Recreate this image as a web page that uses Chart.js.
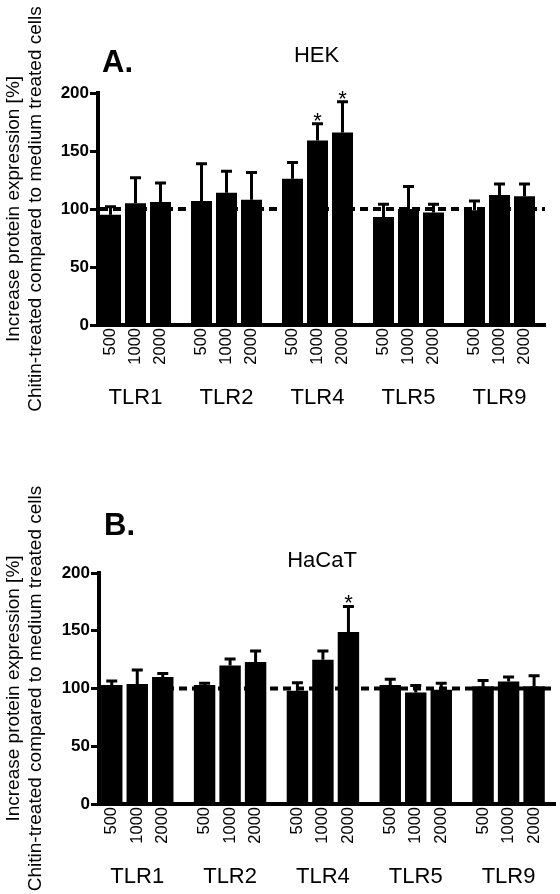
<!DOCTYPE html>
<html><head><meta charset="utf-8">
<script src="https://cdn.jsdelivr.net/npm/chart.js@4.4.1/dist/chart.umd.min.js"></script>
<style>html,body{margin:0;padding:0;background:#fff;}canvas{display:block;}</style>
</head><body>
<canvas id="c1" width="560" height="447"></canvas>
<canvas id="c2" width="560" height="447"></canvas>
<script>
// ---- data ----
const receptors = ['TLR1', 'TLR2', 'TLR4', 'TLR5', 'TLR9'];
const doses = ['500', '1000', '2000'];
const yTicks = [0, 50, 100, 150, 200];
const yTitle = ['Increase protein expression [%]', 'Chitin-treated compared to medium treated cells'];
const baselineValue = 100;

const hekMean = [95, 105, 106, 107, 114, 108, 126, 159, 166, 93, 100, 97, 99, 112, 111];
const hekErr  = [7, 22, 16.5, 32, 18.5, 23.5, 14, 14.5, 26.5, 11, 19.5, 7, 8, 9.5, 10.5];
const hekSig  = [0, 0, 0, 0, 0, 0, 0, 1, 1, 0, 0, 0, 0, 0, 0];

const hacatMean = [103, 104, 110, 103, 120, 123, 98, 125, 149, 103, 96.5, 99, 102, 106, 102];
const hacatErr  = [3.5, 12, 3, 1.5, 5.5, 9.5, 7, 7.5, 22, 5, 6, 5.5, 5, 4, 9];
const hacatSig  = [0, 0, 0, 0, 0, 0, 0, 0, 1, 0, 0, 0, 0, 0, 0];

// ---- layout helpers ----
const FAMILY = '"Liberation Sans", Arial, sans-serif';
const GROUP_STEP = 3.64;
const positions = [];
receptors.forEach((r, g) => doses.forEach((d, i) => positions.push(g * GROUP_STEP + i)));

const overlay = {
  id: 'overlay',
  afterDatasetsDraw(chart, args, o) {
    const ctx = chart.ctx;
    const xs = chart.scales.x, ys = chart.scales.y;
    const area = chart.chartArea;
    const meta = chart.getDatasetMeta(0);
    ctx.save();
    // dashed reference line
    ctx.strokeStyle = '#000';
    ctx.lineWidth = 4;
    ctx.setLineDash([8, 5]);
    const yb = ys.getPixelForValue(baselineValue);
    ctx.beginPath();
    ctx.moveTo(area.left + 2, yb);
    ctx.lineTo(area.right, yb);
    ctx.stroke();
    ctx.setLineDash([]);
    // error bars
    ctx.lineWidth = 3;
    meta.data.forEach((bar, i) => {
      const top = ys.getPixelForValue(o.mean[i] + o.err[i]);
      ctx.beginPath();
      ctx.moveTo(bar.x, bar.y);
      ctx.lineTo(bar.x, top);
      ctx.moveTo(bar.x - 5.5, top);
      ctx.lineTo(bar.x + 5.5, top);
      ctx.stroke();
      if (o.sig[i]) {
        ctx.fillStyle = '#000';
        ctx.font = '22px ' + FAMILY;
        ctx.textAlign = 'center';
        ctx.textBaseline = 'alphabetic';
        ctx.fillText('*', bar.x, top + 4);
      }
    });
    // group labels
    ctx.fillStyle = '#000';
    ctx.font = '22px ' + FAMILY;
    ctx.textAlign = 'center';
    ctx.textBaseline = 'alphabetic';
    receptors.forEach((r, g) => {
      ctx.fillText(r, xs.getPixelForValue(g * GROUP_STEP + 1), area.bottom + 79);
    });
    // panel letter
    ctx.font = 'bold 31px ' + FAMILY;
    ctx.textAlign = 'left';
    ctx.fillText(o.letter, o.letterX, o.letterY);
    // cell-line title
    ctx.font = '22px ' + FAMILY;
    ctx.textAlign = 'center';
    ctx.fillText(o.title, (area.left + area.right) / 2 - 5, o.titleY);
    ctx.restore();
  }
};

function makeChart(id, mean, err, sig, g) {
  return new Chart(document.getElementById(id), {
    type: 'bar',
    data: {
      datasets: [{
        data: mean.map((v, i) => ({ x: positions[i], y: v })),
        backgroundColor: '#000',
        borderWidth: 0,
        barPercentage: 0.84,
        categoryPercentage: 1
      }]
    },
    options: {
      responsive: false,
      animation: false,
      devicePixelRatio: 1,
      layout: { padding: { top: g.top, right: g.right, left: 0, bottom: 0 } },
      plugins: {
        legend: { display: false },
        tooltip: { enabled: false },
        overlay: { mean, err, sig, letter: g.letter, letterX: g.letterX, letterY: g.letterY, title: g.title, titleY: g.titleY }
      },
      scales: {
        x: {
          type: 'linear',
          offset: false,
          bounds: 'data',
          min: -0.5, max: 17.38,
          afterBuildTicks: s => { s.ticks = positions.map(v => ({ value: v })); },
          afterFit: s => { s.height = g.xh; s.paddingLeft = 0; s.paddingRight = 0; },
          grid: { display: false, drawTicks: false, offset: false },
          border: { display: true, color: '#000', width: 4 },
          ticks: {
            autoSkip: false, minRotation: 90, maxRotation: 90, padding: 3,
            color: '#000', font: { family: FAMILY, size: 16.5 },
            callback: (v, i) => doses[i % doses.length]
          }
        },
        y: {
          min: 0, max: 200,
          afterBuildTicks: s => { s.ticks = yTicks.map(v => ({ value: v })); },
          afterFit: s => { s.width = g.yw; s.paddingTop = 0; s.paddingBottom = 0; },
          grid: { drawOnChartArea: false, drawTicks: true, tickLength: 8, tickWidth: 3, tickColor: '#000' },
          border: { display: true, color: '#000', width: 4 },
          ticks: { padding: 1, color: '#000', font: { family: FAMILY, size: 17, weight: 'bold' } },
          title: { display: true, text: yTitle, color: '#000', font: { family: FAMILY, size: 19, lineHeight: 1.2 }, padding: { top: 2, bottom: 0 } }
        }
      }
    },
    plugins: [overlay]
  });
}

makeChart('c1', hekMean, hekErr, hekSig,
  { top: 93, right: 15, xh: 122, yw: 98, letter: 'A.', letterX: 102, letterY: 72, title: 'HEK', titleY: 62 });
makeChart('c2', hacatMean, hacatErr, hacatSig,
  { top: 126, right: 5, xh: 90, yw: 99, letter: 'B.', letterX: 104, letterY: 88, title: 'HaCaT', titleY: 120 });
</script>
</body></html>
